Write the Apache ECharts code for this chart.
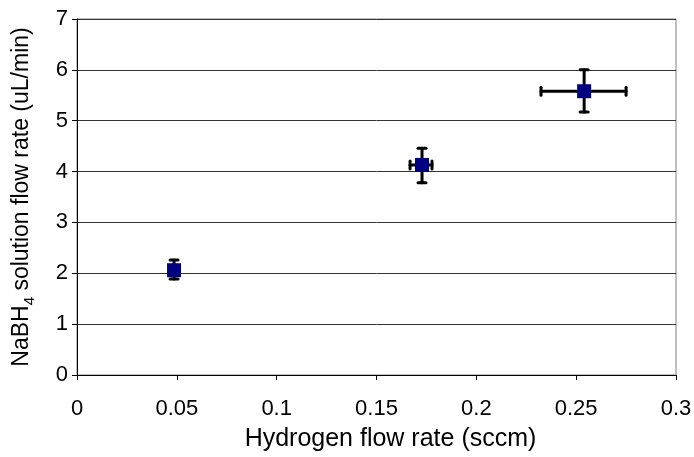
<!DOCTYPE html>
<html>
<head>
<meta charset="utf-8">
<script src="https://cdn.jsdelivr.net/npm/echarts@6/dist/echarts.min.js"></script>
<style>
  html, body { margin: 0; padding: 0; background: #fff; }
  #chart { width: 694px; height: 457px; }
</style>
</head>
<body>
<div id="chart"></div>
<script>
// values
var hydrogenFlow = [0.0486, 0.1728, 0.254];
var solutionFlow = [2.06, 4.13, 5.58];
var hydrogenLow = [0.0486, 0.1668, 0.2324];
var hydrogenHigh = [0.0486, 0.1778, 0.275];
var solutionLow = [1.89, 3.78, 5.17];
var solutionHigh = [2.26, 4.46, 6.0];

var font = 'Liberation Sans, Arial, sans-serif';

var points = hydrogenFlow.map(function(x, i) { return [x, solutionFlow[i]]; });
var errRows = hydrogenFlow.map(function(x, i) {
  return [x, solutionFlow[i], hydrogenLow[i], hydrogenHigh[i], solutionLow[i], solutionHigh[i]];
});

function renderErrorBar(params, api) {
  var x = api.value(0), y = api.value(1);
  var c = api.coord([x, y]);
  var xl = api.coord([api.value(2), y]), xh = api.coord([api.value(3), y]);
  var yl = api.coord([x, api.value(4)]), yh = api.coord([x, api.value(5)]);
  var st = { stroke: '#000', lineWidth: 3, lineCap: 'round' };
  var cap = 4;
  var kids = [
    { type: 'line', shape: { x1: c[0], y1: yl[1], x2: c[0], y2: yh[1] }, style: st },
    { type: 'line', shape: { x1: c[0] - cap, y1: yl[1], x2: c[0] + cap, y2: yl[1] }, style: st },
    { type: 'line', shape: { x1: c[0] - cap, y1: yh[1], x2: c[0] + cap, y2: yh[1] }, style: st }
  ];
  if (xh[0] - xl[0] > 1) {
    kids.push(
      { type: 'line', shape: { x1: xl[0], y1: c[1], x2: xh[0], y2: c[1] }, style: st },
      { type: 'line', shape: { x1: xl[0], y1: c[1] - cap, x2: xl[0], y2: c[1] + cap }, style: st },
      { type: 'line', shape: { x1: xh[0], y1: c[1] - cap, x2: xh[0], y2: c[1] + cap }, style: st }
    );
  }
  return { type: 'group', children: kids };
}

var chart = echarts.init(document.getElementById('chart'));
chart.setOption({
  animation: false,
  backgroundColor: '#fff',
  grid: {
    left: 77, right: 18, top: 19, bottom: 82,
    containLabel: false, outerBoundsMode: 'none',
    show: true, borderColor: '#808080', borderWidth: 1
  },
  xAxis: {
    type: 'value', min: 0, max: 0.3, interval: 0.05,
    name: '{p|}{t|Hydrogen flow rate (sccm)}', nameLocation: 'middle', nameGap: 52,
    nameTextStyle: {
      color: '#000', fontSize: 25, fontFamily: font,
      rich: {
        p: { width: 28, fontSize: 25 },
        t: { fontSize: 25, fontFamily: font, color: '#000' }
      }
    },
    axisLine: { show: true, onZero: false, lineStyle: { color: '#000', width: 1 } },
    axisTick: { show: true, length: 5, lineStyle: { color: '#000' } },
    axisLabel: { color: '#000', fontSize: 22, fontFamily: font, margin: 23 },
    splitLine: { show: false }
  },
  yAxis: {
    type: 'value', min: 0, max: 7, interval: 1,
    name: '{a|NaBH}{s|4}{a| solution flow rate (uL/min)}', nameLocation: 'middle', nameGap: 44,
    nameTextStyle: {
      color: '#000', fontSize: 23, fontFamily: font,
      rich: {
        a: { fontSize: 23, fontFamily: font, color: '#000', verticalAlign: 'bottom', lineHeight: 25 },
        s: { fontSize: 15, fontFamily: font, color: '#000', verticalAlign: 'bottom', lineHeight: 18, padding: [0, 0, -4, 0] }
      }
    },
    axisLine: { show: true, onZero: false, lineStyle: { color: '#000', width: 1 } },
    axisTick: { show: true, length: 5, lineStyle: { color: '#000' } },
    axisLabel: { color: '#000', fontSize: 22, fontFamily: font, margin: 9 },
    splitLine: { show: true, lineStyle: { color: '#333', width: 1 } }
  },
  series: [
    {
      type: 'custom', renderItem: renderErrorBar, data: errRows, z: 3,
      encode: { x: 0, y: 1 }
    },
    {
      type: 'scatter', data: points, symbol: 'rect', symbolSize: 14, z: 5,
      itemStyle: { color: '#000080', opacity: 1 }
    }
  ]
});
</script>
</body>
</html>
